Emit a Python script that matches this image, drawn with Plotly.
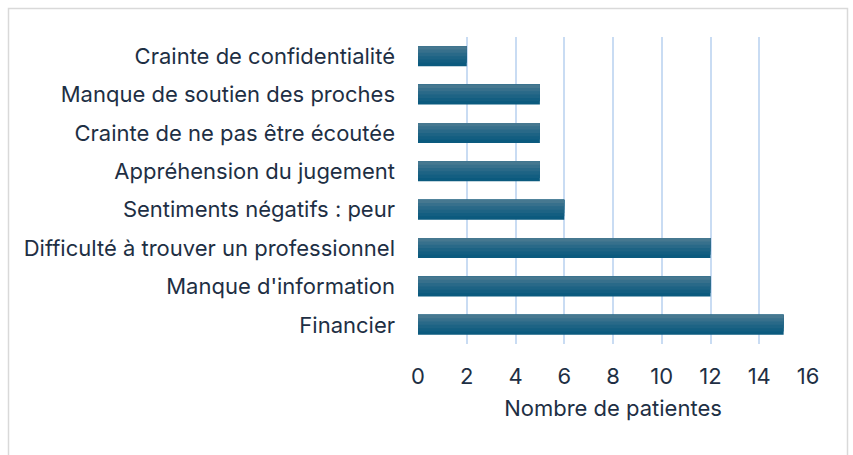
import plotly.graph_objects as go

categories = [
    "Financier",
    "Manque d'information",
    "Difficulté à trouver un professionnel",
    "Sentiments négatifs : peur",
    "Appréhension du jugement",
    "Crainte de ne pas être écoutée",
    "Manque de soutien des proches",
    "Crainte de confidentialité",
]
values = [15, 12, 12, 6, 5, 5, 5, 2]
x_ticks = [0, 2, 4, 6, 8, 10, 12, 14, 16]

# vertical gradient approximation: dark base, progressively lighter top slices
band_colors = ["#0b5a7e", "#135e81", "#1d6384", "#296988", "#37708c", "#467890"]
bar_w = 0.52
n = len(band_colors)

fig = go.Figure()
for i, c in enumerate(band_colors):
    h = bar_w * (n - i) / n
    fig.add_trace(go.Bar(
        y=categories, x=values, orientation="h",
        width=h, offset=bar_w / 2 - h,
        marker=dict(color=c, line=dict(width=0)),
        hoverinfo="x+y", showlegend=False,
    ))

L, R, T, B = 418, 45, 37, 111
W, H = 853, 455
pw = W - L - R
ph = H - T - B

fig.update_layout(
    width=W, height=H,
    margin=dict(l=L, r=R, t=T, b=B),
    barmode="overlay",
    paper_bgcolor="white", plot_bgcolor="white",
    font=dict(family="Inter, Noto Sans, sans-serif", size=22, color="#1e2f44"),
    xaxis=dict(
        range=[0, 16], tickvals=x_ticks, showgrid=True,
        gridcolor="#c9dcf3", gridwidth=2, zeroline=False,
        showline=False, ticks="", ticklabelstandoff=17,
        title=dict(text="Nombre de patientes", standoff=12, font=dict(size=22)),
    ),
    yaxis=dict(
        showgrid=False, zeroline=False, showline=False, ticks="",
        ticklabelstandoff=22, range=[-0.5, 7.5],
    ),
    shapes=[dict(
        type="rect", xref="paper", yref="paper",
        x0=(8.5 - L) / pw, x1=(847.5 - L) / pw,
        y0=(H - 470 - B) / ph, y1=(H - 8.5 - B) / ph,
        line=dict(color="#d9d9d9", width=1.5), fillcolor="rgba(0,0,0,0)",
        layer="below",
    )],
)

fig.write_html(
    "out.html",
    config={"displayModeBar": False},
    post_script="document.body.style.margin='0';document.body.style.overflow='hidden';",
)
